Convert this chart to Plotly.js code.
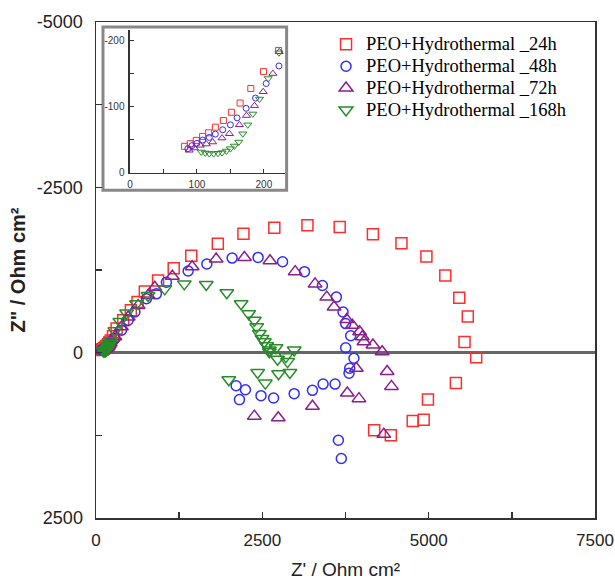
<!DOCTYPE html>
<html>
<head>
<meta charset="utf-8">
<script src="https://cdn.plot.ly/plotly-3.0.1.min.js"></script>
<style>html,body{margin:0;padding:0;background:#fff;}#chart{width:615px;height:580px;}</style>
</head>
<body>
<div id="chart"></div>
<script>
// Series names
const seriesNames = ["PEO+Hydrothermal _24h", "PEO+Hydrothermal _48h", "PEO+Hydrothermal _72h", "PEO+Hydrothermal _168h"];

// 24h (Z', Z'')
const x24 = [81.5, 90, 99, 108.5, 117.5, 127.5, 139.5, 151.5, 164.5, 180.5, 199.5, 222, 255, 310, 409, 524, 624, 734, 933, 1168, 1432, 1831, 2216, 2680, 3178, 3663, 4162, 4591, 4966, 5250, 5460, 5588, 5539, 5714, 5409, 4989, 4925, 4760, 4431, 4181];
const y24 = [-40, -44, -49, -55, -60.5, -69, -79, -91.5, -105.5, -127.5, -153, -185, -250, -365, -490, -640, -765, -925, -1090, -1278, -1466, -1648, -1800, -1890, -1925, -1900, -1790, -1655, -1455, -1166, -830, -545, -160, 70, 460, 710, 1015, 1035, 1250, 1175];

// 48h
const x48 = [86.5, 92.5, 100, 108.5, 118.5, 127.5, 138.5, 150, 160, 173.5, 187.5, 203.5, 222.5, 284, 384, 484, 584, 758, 908, 1058, 1385, 1666, 2046, 2436, 2804, 3134, 3403, 3613, 3713, 3753, 3828, 3753, 3877, 3813, 3803, 3593, 3413, 3253, 2979, 2669, 2480, 2156, 2246, 2106, 3643, 3687];
const y48 = [-36.5, -41, -44.5, -49.5, -53.5, -58.5, -65, -72.5, -83, -97.5, -113, -135, -161.5, -215, -340, -490, -615, -815, -890, -1065, -1235, -1340, -1430, -1440, -1375, -1225, -1015, -840, -615, -440, -255, -75, 85, 235, 310, 475, 475, 570, 620, 685, 650, 710, 560, 500, 1325, 1600];

// 72h
const x72 = [88.5, 96, 105, 114, 123.5, 137.5, 148.5, 163.5, 174, 186, 199, 213.5, 223, 284, 384, 484, 634, 783, 883, 1148, 1445, 1806, 2231, 2615, 2994, 3293, 3468, 3578, 3768, 3853, 3962, 4002, 4027, 4162, 4301, 3912, 4376, 4441, 3777, 3952, 3253, 2740, 2380, 4326];
const y72 = [-34, -37.5, -41.5, -43.5, -46.5, -52.5, -59, -72.5, -86.5, -101.5, -122.5, -150, -183, -240, -390, -540, -715, -865, -990, -1155, -1298, -1415, -1440, -1390, -1225, -1040, -840, -690, -500, -415, -315, -240, -165, -115, -15, 235, 285, 510, 610, 695, 810, 985, 960, 1235];

// 168h
const x168 = [106.5, 112.5, 118.5, 125, 131.5, 137.5, 144, 150, 156, 162.5, 168.5, 176, 183.5, 193.5, 206.5, 222.5, 284, 359, 459, 609, 783, 1033, 1327, 1657, 1966, 2181, 2295, 2380, 2415, 2455, 2495, 2530, 2565, 2605, 2705, 2605, 2979, 2855, 2729, 2879, 2430, 2744, 2914, 2545, 1996];
const y168 = [-31.5, -30, -29, -29, -29.5, -30.5, -33, -36.5, -40.5, -46.5, -59, -72.5, -89, -111.5, -142.5, -181.5, -330, -470, -600, -740, -865, -965, -1040, -1030, -905, -740, -590, -490, -390, -290, -215, -165, -105, -40, -75, -15, -40, 60, 100, 135, 300, 320, 300, 460, 410];

// Axis ticks
const mainXTicks = [0, 1250, 2500, 3750, 5000, 6250, 7500];
const mainXLabels = ["0", "", "2500", "", "5000", "", "7500"];
const mainYTicks = [-5000, -3750, -2500, -1250, 0, 1250, 2500];
const mainYLabels = ["-5000", "", "-2500", "", "0", "", "2500"];
const insetXTicks = [0, 50, 100, 150, 200];
const insetXLabels = ["0", "", "100", "", "200"];
const insetYTicks = [0, -50, -100, -150, -200];
const insetYLabels = ["0", "", "-100", "", "-200"];

const colors = ["rgb(255,45,45)", "rgb(45,45,255)", "rgb(140,30,140)", "rgb(40,140,40)"];
const symbols = ["square-open", "circle-open", "triangle-up-open", "triangle-down-open"];
const mainSizes = [11, 10, 12, 12];
const insetSizes = [6, 6, 7, 7];
const xs = [x24, x48, x72, x168];
const ys = [y24, y48, y72, y168];

const traces = [];
for (let i = 0; i < 4; i++) {
  traces.push({
    type: "scatter", mode: "markers",
    name: '<span style="font-size:18.5px">' + seriesNames[i] + '</span>',
    x: xs[i], y: ys[i], xaxis: "x", yaxis: "y",
    marker: {symbol: symbols[i], size: mainSizes[i], color: colors[i], line: {color: colors[i], width: 1.5}}
  });
}
for (let i = 0; i < 4; i++) {
  traces.push({
    type: "scatter", mode: "markers", name: seriesNames[i], showlegend: false,
    x: xs[i], y: ys[i], xaxis: "x2", yaxis: "y2",
    marker: {symbol: symbols[i], size: insetSizes[i], color: colors[i], line: {color: colors[i], width: 1}}
  });
}

const axisCommon = {
  showgrid: false, ticks: "inside", showline: true, mirror: true,
  linecolor: "#333", linewidth: 1.5, tickcolor: "#333", tickwidth: 1.5, ticklen: 6,
  ticklabeloverflow: "allow"
};

const layout = {
  width: 615, height: 580,
  margin: {l: 96, r: 20, t: 17, b: 62},
  paper_bgcolor: "#fff", plot_bgcolor: "#fff",
  font: {family: "Liberation Sans, Arial, sans-serif", color: "#222"},
  showlegend: true,
  legend: {
    x: 0.461, y: 0.987, xanchor: "left", yanchor: "top",
    bgcolor: "rgba(0,0,0,0)",
    font: {family: "Liberation Serif, Times New Roman, serif", size: 14.5, color: "#000"}
  },
  xaxis: Object.assign({}, axisCommon, {
    domain: [0, 1], range: [0, 7500], zeroline: false,
    tickvals: mainXTicks, ticktext: mainXLabels,
    tickfont: {size: 17}, ticklabelstandoff: 6,
    title: {text: "Z' / Ohm cm²", font: {size: 19}}
  }),
  yaxis: Object.assign({}, axisCommon, {
    domain: [0, 1], range: [2500, -5000],
    zeroline: true, zerolinecolor: "#666", zerolinewidth: 2.5,
    tickvals: mainYTicks, ticktext: mainYLabels,
    tickfont: {size: 18}, ticklabelstandoff: 8,
    automargin: true,
    title: {text: 'Z" / Ohm cm²', font: {size: 20, weight: "bold"}, standoff: 6}
  }),
  xaxis2: Object.assign({}, axisCommon, {
    domain: [0.0681, 0.378], anchor: "y2", range: [0, 231], zeroline: false,
    mirror: false, linewidth: 1.5, ticklen: 4, tickwidth: 1,
    tickvals: insetXTicks, ticktext: insetXLabels,
    tickfont: {size: 10, color: "#333"}, ticklabelstandoff: 2
  }),
  yaxis2: Object.assign({}, axisCommon, {
    domain: [0.696, 0.984], anchor: "x2", range: [0, -216], zeroline: false,
    mirror: false, linewidth: 1.5, ticklen: 4, tickwidth: 1,
    tickvals: insetYTicks, ticktext: insetYLabels,
    tickfont: {size: 10, color: "#333"}, ticklabelstandoff: 2
  }),
  shapes: [{
    type: "rect", xref: "paper", yref: "paper",
    x0: 0.014, x1: 0.382, y0: 0.661, y1: 0.990,
    line: {color: "#888", width: 3}, fillcolor: "#fff", layer: "below"
  }]
};

Plotly.newPlot("chart", traces, layout, {displayModeBar: false, staticPlot: true});
</script>
</body>
</html>
